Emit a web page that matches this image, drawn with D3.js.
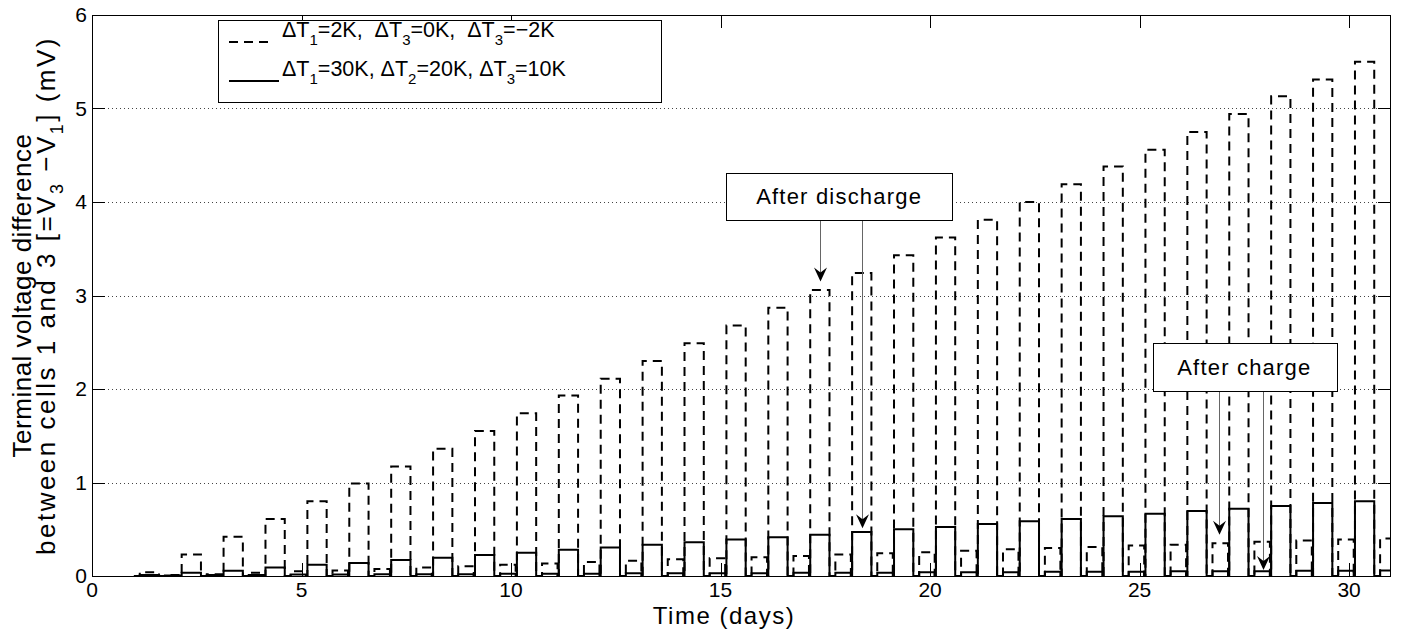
<!DOCTYPE html>
<html><head><meta charset="utf-8">
<script src="https://cdn.jsdelivr.net/npm/d3@7/dist/d3.min.js"></script>
<style>
body{margin:0;background:#fff}
svg{display:block}
text{font-family:"Liberation Sans",Arial,Helvetica,sans-serif;fill:#000}
</style>
</head><body>
<svg id="chart" width="1402" height="633"></svg>
<script>
// ---------------- data ----------------
const days = [1,2,3,4,5,6,7,8,9,10,11,12,13,14,15,16,17,18,19,20,21,22,23,24,25,26,27,28,29,30];
// dashed series (ΔT1=2K, ΔT3=0K, ΔT3=-2K): value after discharge (peak) and after charge (rest)
const dashedPeak = [0.04,0.23,0.42,0.61,0.80,0.99,1.17,1.36,1.55,1.74,1.93,2.11,2.30,2.49,2.68,2.87,3.06,3.24,3.43,3.62,3.81,4.00,4.19,4.38,4.56,4.75,4.94,5.13,5.31,5.50];
const dashedRest = [0.01,0.02,0.035,0.05,0.06,0.075,0.09,0.105,0.12,0.135,0.15,0.163,0.178,0.19,0.20,0.214,0.23,0.243,0.255,0.27,0.285,0.30,0.31,0.325,0.335,0.35,0.365,0.38,0.39,0.40];
// solid series (ΔT1=30K, ΔT2=20K, ΔT3=10K)
const solidPeak = [0.01,0.035,0.057,0.09,0.12,0.14,0.17,0.195,0.225,0.25,0.28,0.305,0.335,0.36,0.39,0.415,0.44,0.47,0.50,0.525,0.555,0.585,0.61,0.64,0.665,0.695,0.72,0.75,0.78,0.80];
const solidRest = [0.005,0.01,0.01,0.015,0.015,0.02,0.02,0.02,0.025,0.025,0.025,0.03,0.03,0.03,0.03,0.035,0.035,0.035,0.04,0.04,0.04,0.045,0.045,0.045,0.05,0.05,0.05,0.055,0.055,0.06];
// daily cycle phase times (fraction of a day): discharge ends, rest ends, charge ends, rest ends
const cyclePhases = [0.14, 0.60, 0.74, 1.11];

const xTicks = [0,5,10,15,20,25,30];
const yTicks = [0,1,2,3,4,5,6];
const gridValues = [1,2,3,4,5];

const legendLabels = [
  {dash:true,  parts:[["ΔT",""],["1","sub"],["=2K,  ΔT",""],["3","sub"],["=0K,  ΔT",""],["3","sub"],["=−2K",""]]},
  {dash:false, parts:[["ΔT",""],["1","sub"],["=30K, ΔT",""],["2","sub"],["=20K, ΔT",""],["3","sub"],["=10K",""]]}
];

const annotations = [
  {text:"After discharge", x0:15.13, x1:20.53, yTop:4.31, yBot:3.81, arrows:[{x:17.37,y:3.15},{x:18.37,y:0.51}]},
  {text:"After charge",    x0:25.31, x1:29.69, yTop:2.49, yBot:1.98, arrows:[{x:26.90,y:0.44},{x:27.94,y:0.064}]}
];

// ---------------- layout ----------------
const L = 92, R = 1391, T = 15, B = 576;
const svg = d3.select("#chart");
const x = d3.scaleLinear().domain([0,31]).range([L,R]);
const y = d3.scaleLinear().domain([0,6]).range([B,T]);

function waveform(peaks, rests){
  const pts = [[days[0],0]];
  days.forEach((d,i)=>{
    const [p1,p2,p3,p4] = cyclePhases;
    pts.push([d+p1,0],[d+p1,peaks[i]],[d+p2,peaks[i]],[d+p2,0],
             [d+p3,0],[d+p3,rests[i]],[d+p4,rests[i]],[d+p4,0]);
  });
  return pts;
}

svg.append("defs").append("clipPath").attr("id","clip")
  .append("rect").attr("x",L).attr("y",T).attr("width",R-L).attr("height",B-T);

// grid
svg.append("g").selectAll("line").data(gridValues).join("line")
  .attr("x1",L).attr("x2",R).attr("y1",d=>Math.round(y(d))+0.5).attr("y2",d=>Math.round(y(d))+0.5)
  .attr("stroke","#444").attr("stroke-width",1).attr("stroke-dasharray","1,3");

const line = d3.line().x(d=>x(d[0])).y(d=>y(d[1]));
const plot = svg.append("g").attr("clip-path","url(#clip)");
plot.append("path").attr("d",line(waveform(dashedPeak,dashedRest)))
  .attr("fill","none").attr("stroke","#000").attr("stroke-width",2).attr("stroke-dasharray","9,6");
plot.append("path").attr("d",line(waveform(solidPeak,solidRest)))
  .attr("fill","none").attr("stroke","#000").attr("stroke-width",2).attr("stroke-linejoin","miter");

// axes box and ticks
const ax = svg.append("g");
ax.append("rect").attr("x",L+0.5).attr("y",T+0.5).attr("width",R-L-1).attr("height",B-T)
  .attr("fill","none").attr("stroke","#000").attr("stroke-width",1);
const tl = 13;
xTicks.forEach(v=>{
  const px = Math.round(x(v))+0.5;
  ax.append("line").attr("x1",px).attr("x2",px).attr("y1",B).attr("y2",B-tl).attr("stroke","#000");
  ax.append("line").attr("x1",px).attr("x2",px).attr("y1",T).attr("y2",T+tl).attr("stroke","#000");
  ax.append("text").attr("x",x(v)).attr("y",B+21).attr("text-anchor","middle").style("font-size","21px").text(v);
});
yTicks.forEach(v=>{
  const py = Math.round(y(v))+0.5;
  ax.append("line").attr("x1",L).attr("x2",L+tl).attr("y1",py).attr("y2",py).attr("stroke","#000");
  ax.append("line").attr("x1",R).attr("x2",R-tl).attr("y1",py).attr("y2",py).attr("stroke","#000");
  ax.append("text").attr("x",L-5).attr("y",y(v)+7).attr("text-anchor","end").style("font-size","21px").text(v);
});

// annotations
annotations.forEach(a=>{
  const g = svg.append("g");
  a.arrows.forEach(ar=>{
    const axp = Math.round(x(ar.x))+0.5, ty = y(ar.y);
    g.append("line").attr("x1",axp).attr("x2",axp).attr("y1",y(a.yBot)).attr("y2",ty-8)
      .attr("stroke","#666").attr("stroke-width",1);
    g.append("path").attr("d",`M${axp},${ty} L${axp-6.5},${ty-14} L${axp},${ty-9} L${axp+6.5},${ty-14} Z`)
      .attr("fill","#000");
  });
  g.append("rect").attr("x",Math.round(x(a.x0))+0.5).attr("y",Math.round(y(a.yTop))+0.5)
    .attr("width",Math.round(x(a.x1)-x(a.x0))).attr("height",Math.round(y(a.yBot)-y(a.yTop)))
    .attr("fill","#fff").attr("stroke","#000").attr("stroke-width",1);
  g.append("text").attr("x",(x(a.x0)+x(a.x1))/2).attr("y",(y(a.yTop)+y(a.yBot))/2+8)
    .attr("text-anchor","middle").style("font-size","22px").style("letter-spacing","1.2px").text(a.text);
});

// legend (drawn over the top tick marks)
const lg = svg.append("g");
lg.append("rect").attr("x",218.5).attr("y",20.5).attr("width",443).attr("height",82)
  .attr("fill","#fff").attr("stroke","#000").attr("stroke-width",1);
legendLabels.forEach((it,i)=>{
  const ly = 42 + i*39;
  lg.append("line").attr("x1",229).attr("x2",it.dash?272:279).attr("y1",ly).attr("y2",ly)
    .attr("stroke","#000").attr("stroke-width",2).attr("stroke-dasharray",it.dash?"9,6":null);
  const t = lg.append("text").attr("x",282).attr("y",ly+3).style("font-size","21.5px").style("white-space","pre");
  it.parts.forEach(([s,k])=>{
    if(k==="sub") t.append("tspan").attr("dy",8).style("font-size","15px").text(s);
    else t.append("tspan").attr("dy",(t.selectAll("tspan").size()>0)?-8:0).text(s);
  });
});

// axis labels
svg.append("text").attr("x",724).attr("y",624).attr("text-anchor","middle").style("font-size","24px").style("letter-spacing","1.5px").text("Time (days)");
svg.append("text").attr("transform",`translate(31,${(T+B)/2}) rotate(-90)`)
  .attr("text-anchor","middle").style("font-size","26px").style("letter-spacing","0.5px").text("Terminal voltage difference");
const yl2 = svg.append("text").attr("transform",`translate(55,${(T+B)/2}) rotate(-90)`)
  .attr("text-anchor","middle").style("font-size","26px").style("letter-spacing","2.5px");
[["between cells 1 and 3 [=V",0,null],["3",8,"18px"],[" −V",-8,null],["1",8,"18px"],["] (mV)",-8,null]].forEach(([s,dy,fs])=>{
  const ts = yl2.append("tspan").attr("dy",dy).text(s).style("white-space","pre");
  if(fs) ts.style("font-size",fs);
});
</script>
</body></html>
